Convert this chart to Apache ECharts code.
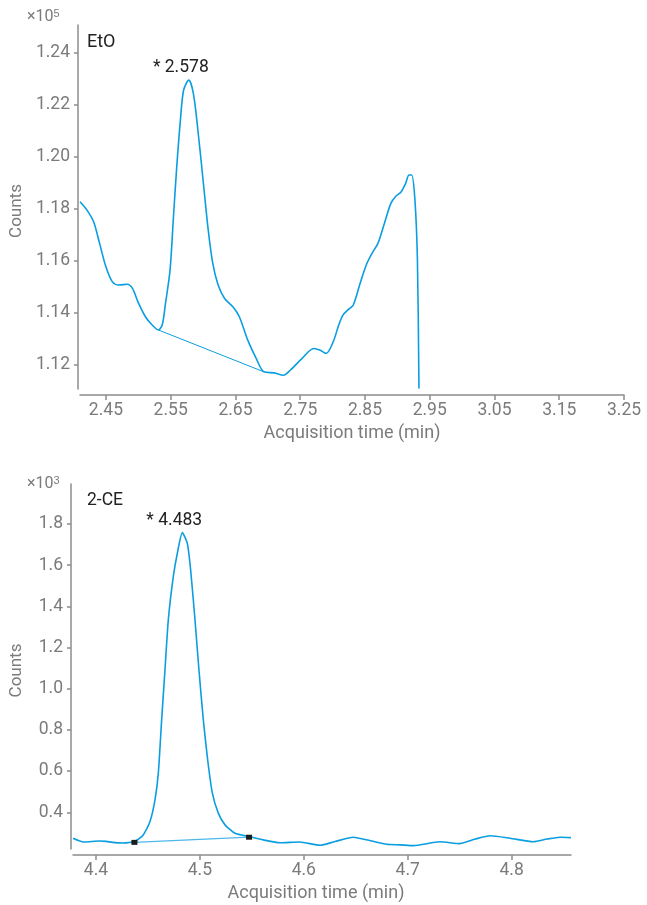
<!DOCTYPE html>
<html>
<head>
<meta charset="utf-8">
<script src="https://cdn.jsdelivr.net/npm/echarts@6/dist/echarts.min.js"></script>
<style>
    html, body {margin: 0; padding: 0; background: #fff;}
    #chart {width: 647px; height: 905px;}
</style>
</head>
<body>
<div id="chart"></div>
<script>
// EtO trace, counts x10^5
var etoTrace = [
    [2.410, 1.1828], [2.421, 1.1795], [2.431, 1.1751], [2.440, 1.1670], [2.450, 1.1578],
    [2.460, 1.1520], [2.470, 1.1508], [2.483, 1.1511], [2.491, 1.1495], [2.500, 1.1440],
    [2.511, 1.1386], [2.521, 1.1355], [2.531, 1.1335], [2.537, 1.1355], [2.542, 1.1437],
    [2.549, 1.1565], [2.554, 1.1758], [2.559, 1.1950], [2.565, 1.2142], [2.570, 1.2258],
    [2.578, 1.2296], [2.585, 1.2245], [2.592, 1.2104], [2.600, 1.1912], [2.608, 1.1719],
    [2.615, 1.1591], [2.623, 1.1510], [2.633, 1.1457], [2.646, 1.1424], [2.656, 1.1386],
    [2.669, 1.1296], [2.682, 1.1226], [2.694, 1.1174], [2.710, 1.1170], [2.724, 1.1161],
    [2.735, 1.1181], [2.753, 1.1226], [2.771, 1.1264], [2.780, 1.1258], [2.790, 1.1245],
    [2.801, 1.1290], [2.809, 1.1350], [2.816, 1.1392], [2.825, 1.1415], [2.832, 1.1431],
    [2.842, 1.1510], [2.852, 1.1585], [2.861, 1.1630], [2.870, 1.1668], [2.880, 1.1745],
    [2.890, 1.1822], [2.898, 1.1850], [2.906, 1.1867], [2.913, 1.1900], [2.918, 1.1931],
    [2.922, 1.1931], [2.927, 1.1841], [2.931, 1.1604], [2.9334, 1.1110]
]
var etoBaseline = [[2.531, 1.1335], [2.694, 1.1174]]
var etoPeak = [2.578, 1.2296]
var etoXTicks = [2.45, 2.55, 2.65, 2.75, 2.85, 2.95, 3.05, 3.15, 3.25]
var etoYTicks = [1.12, 1.14, 1.16, 1.18, 1.20, 1.22, 1.24]

// 2-CE trace, counts x10^3
var ceTrace = [
    [4.378, 0.274], [4.388, 0.256], [4.396, 0.258], [4.403, 0.261], [4.410, 0.259],
    [4.416, 0.254], [4.425, 0.251], [4.437, 0.258], [4.4455, 0.290], [4.452, 0.355],
    [4.4568, 0.460], [4.460, 0.590], [4.4632, 0.849], [4.4664, 1.091], [4.4696, 1.334],
    [4.4744, 1.544], [4.4783, 1.658], [4.4831, 1.758], [4.4879, 1.706], [4.4911, 1.577],
    [4.4953, 1.334], [4.4991, 1.091], [4.5033, 0.849], [4.5075, 0.654], [4.512, 0.493],
    [4.5177, 0.396], [4.5242, 0.339], [4.5338, 0.298], [4.5473, 0.282], [4.561, 0.266],
    [4.577, 0.252], [4.596, 0.256], [4.6156, 0.240], [4.6300, 0.258], [4.6476, 0.279],
    [4.664, 0.262], [4.6798, 0.245], [4.6930, 0.242], [4.7054, 0.238], [4.7311, 0.257],
    [4.7503, 0.248], [4.7650, 0.270], [4.7792, 0.286], [4.7985, 0.274], [4.8209, 0.257],
    [4.8340, 0.270], [4.8466, 0.279], [4.857, 0.277]
]
var ceBaseline = [[4.437, 0.254], [4.5473, 0.279]]
var cePeak = [4.483, 1.758]
var ceXTicks = [4.4, 4.5, 4.6, 4.7, 4.8]
var ceYTicks = [0.4, 0.6, 0.8, 1.0, 1.2, 1.4, 1.6, 1.8]

var blue = '#0a9ee0'
var axisGray = '#8c8c8c'
var labelGray = '#7b7b7b'
var font = 'Roboto, "Noto Sans", sans-serif'

function xAxisFor(idx, min, max, ticks, digits, namePad) {
    return {
        type: 'value',
        gridIndex: idx,
        min: min,
        max: max,
        offset: 6,
        name: 'Acquisition time (min)',
        nameLocation: 'middle',
        nameGap: 29,
        nameTextStyle: {color: labelGray, fontSize: 18, fontFamily: font, padding: namePad},
        axisLine: {show: true, lineStyle: {color: axisGray, width: 1.5}},
        axisTick: {show: true, length: 5, customValues: ticks, lineStyle: {color: axisGray, width: 1.5}},
        axisLabel: {
            customValues: ticks,
            margin: 7,
            color: labelGray,
            fontSize: 17.5,
            fontFamily: font,
            formatter: function (v) { return v.toFixed(digits) }
        },
        splitLine: {show: false}
    }
}

function yAxisFor(idx, min, max, ticks, digits) {
    return {
        type: 'value',
        gridIndex: idx,
        min: min,
        max: max,
        offset: 2,
        name: 'Counts',
        nameLocation: 'middle',
        nameGap: 46,
        nameTextStyle: {color: labelGray, fontSize: 17, fontFamily: font, padding: [0, 8, 0, 0]},
        axisLine: {show: true, lineStyle: {color: axisGray, width: 1.5}},
        axisTick: {show: true, length: 4, customValues: ticks, lineStyle: {color: axisGray, width: 1.5}},
        axisLabel: {
            customValues: ticks,
            margin: 8,
            color: labelGray,
            fontSize: 17.5,
            fontFamily: font,
            formatter: function (v) { return v.toFixed(digits) }
        },
        splitLine: {show: false}
    }
}

function peakLabel(peak) {
    return {
        symbol: 'circle',
        symbolSize: 0,
        data: [{coord: peak}],
        label: {
            show: true,
            position: 'top',
            distance: 3,
            offset: [-8, 0],
            formatter: '* ' + peak[0].toFixed(3),
            color: '#222',
            fontSize: 17.5,
            fontFamily: font
        }
    }
}

var chart = echarts.init(document.getElementById('chart'))

var option = {
    animation: false,
    backgroundColor: '#fff',
    grid: [
        {left: 74, top: 25, width: 550, height: 364},
        {left: 73, top: 484, width: 498, height: 365}
    ],
    xAxis: [
        xAxisFor(0, 2.41, 3.25, etoXTicks, 2, 0),
        xAxisFor(1, 4.3779, 4.8571, ceXTicks, 1, [0, 12, 0, 0])
    ],
    yAxis: [
        yAxisFor(0, 1.1108, 1.2508, etoYTicks, 2),
        yAxisFor(1, 0.2218, 1.9943, ceYTicks, 1)
    ],
    graphic: [
        {type: 'text', left: 27, top: 8, style: {text: '×10{s|5}', fill: labelGray, font: '16px ' + font,
            rich: {s: {fontSize: 11, fill: labelGray, verticalAlign: 'top', padding: [0, 0, 7, 0]}}}},
        {type: 'text', left: 27, top: 475, style: {text: '×10{s|3}', fill: labelGray, font: '16px ' + font,
            rich: {s: {fontSize: 11, fill: labelGray, verticalAlign: 'top', padding: [0, 0, 7, 0]}}}},
        {type: 'text', left: 87, top: 33, style: {text: 'EtO', fill: '#222', font: '18px ' + font}},
        {type: 'text', left: 87, top: 492, style: {text: '2-CE', fill: '#222', font: '17.5px ' + font}}
    ],
    series: [
        {
            type: 'line',
            xAxisIndex: 0,
            yAxisIndex: 0,
            data: etoTrace,
            smooth: 0.3,
            showSymbol: false,
            lineStyle: {color: blue, width: 1.6},
            markPoint: peakLabel(etoPeak)
        },
        {
            type: 'line',
            xAxisIndex: 0,
            yAxisIndex: 0,
            data: etoBaseline,
            showSymbol: false,
            lineStyle: {color: blue, width: 1}
        },
        {
            type: 'line',
            xAxisIndex: 1,
            yAxisIndex: 1,
            data: ceTrace,
            smooth: 0.2,
            showSymbol: false,
            lineStyle: {color: blue, width: 1.6},
            markPoint: peakLabel(cePeak)
        },
        {
            type: 'line',
            xAxisIndex: 1,
            yAxisIndex: 1,
            data: ceBaseline,
            symbol: 'rect',
            symbolSize: [6, 5],
            showSymbol: true,
            itemStyle: {color: '#1c1c1c', borderWidth: 0},
            lineStyle: {color: '#4cb8ea', width: 1.3}
        }
    ]
}

chart.setOption(option)
</script>
</body>
</html>
